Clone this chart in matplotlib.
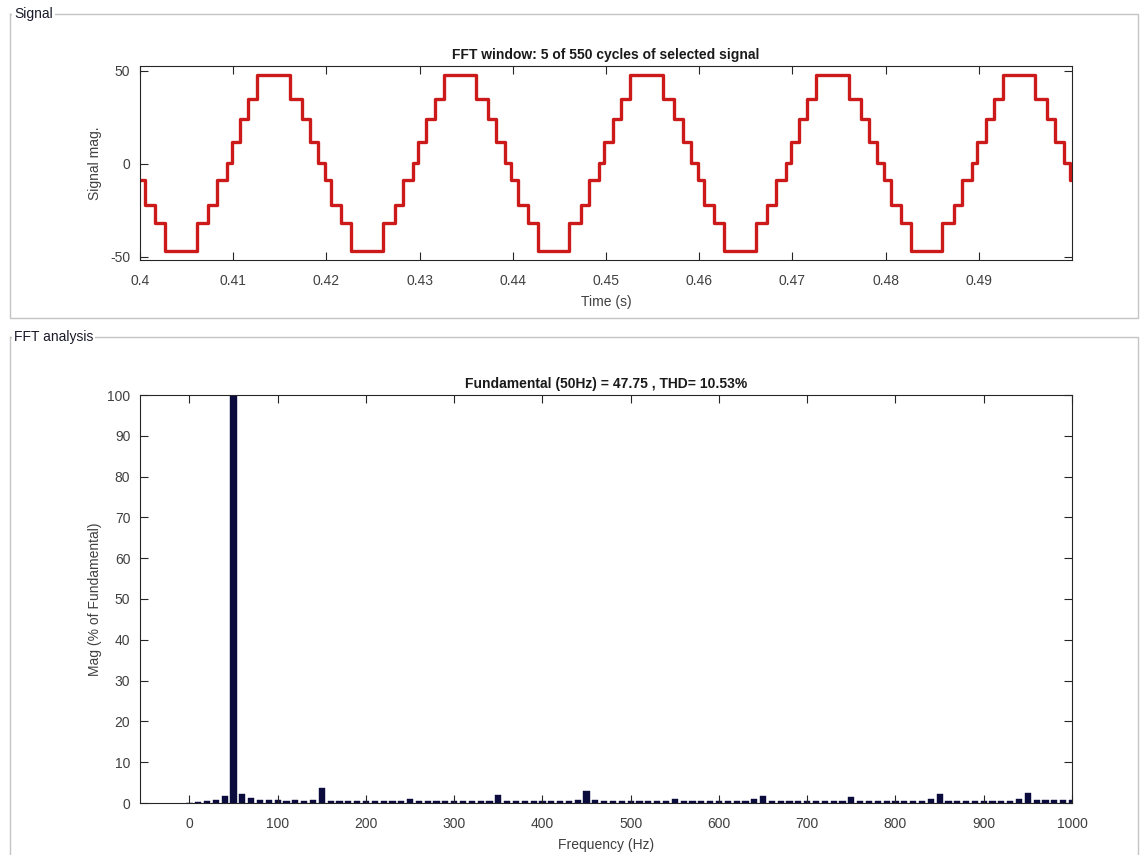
import matplotlib
matplotlib.use("Agg")
import matplotlib.pyplot as plt
from matplotlib.lines import Line2D
import numpy as np

plt.rcParams['font.family'] = ['Liberation Sans', 'DejaVu Sans']
plt.rcParams['axes.unicode_minus'] = False

# --- signal: one cycle of the staircase ---
start_level = -8.5
cycle_starts = [0.40, 0.42, 0.44, 0.46, 0.48]
edge_offsets = [0.00054, 0.00161, 0.00268, 0.00607, 0.00732, 0.00822, 0.00929, 0.00982,
                0.01072, 0.01161, 0.01257, 0.01608, 0.01733, 0.01822, 0.01911, 0.01983]
edge_levels = [-22, -32, -47, -32, -22, -8.5, 0.5, 11.5,
               24, 35, 48, 35, 24, 11.5, 0.5, -8.5]
t_end = 0.5

# --- FFT bars, 0..1000 Hz every 10 Hz (% of fundamental) ---
freqs = list(range(0, 1001, 10))
mags = [
    0.0, 0.3, 0.4, 0.8, 1.8, 100, 2.1, 1.2, 0.8, 0.8,      # 0-90
    0.7, 0.4, 0.7, 0.5, 0.8, 3.7, 0.4, 0.4, 0.4, 0.4,      # 100-190
    0.5, 0.4, 0.4, 0.4, 0.4, 1.0, 0.4, 0.4, 0.4, 0.4,      # 200-290
    0.5, 0.4, 0.4, 0.4, 0.4, 1.9, 0.4, 0.4, 0.4, 0.4,      # 300-390
    0.5, 0.4, 0.4, 0.4, 0.7, 2.9, 0.7, 0.4, 0.4, 0.4,      # 400-490
    0.5, 0.4, 0.4, 0.4, 0.4, 1.1, 0.4, 0.4, 0.4, 0.4,      # 500-590
    0.4, 0.4, 0.4, 0.4, 0.9, 1.8, 0.4, 0.4, 0.4, 0.4,      # 600-690
    0.5, 0.4, 0.4, 0.4, 0.4, 1.4, 0.4, 0.4, 0.4, 0.4,      # 700-790
    0.4, 0.4, 0.4, 0.4, 1.0, 2.1, 0.4, 0.4, 0.4, 0.4,      # 800-890
    0.5, 0.4, 0.4, 0.4, 1.0, 2.5, 0.8, 0.7, 0.7, 0.7,      # 900-990
    0.7,                                                   # 1000
]

W, H = 1140, 855
fig = plt.figure(figsize=(W / 100, H / 100), dpi=100, facecolor='white')


def fx(px):
    return px / W


def fy(py):
    return 1 - py / H


def style_axes(ax):
    for s in ax.spines.values():
        s.set_color('#262626')
        s.set_linewidth(0.8)
    ax.tick_params(direction='in', length=6, width=0.8, top=True, right=True,
                   colors='#262626', labelsize=10, labelcolor='#404040')
    ax.tick_params(axis='x', pad=10)
    ax.tick_params(axis='y', pad=7)


# panel frames
frame_col = '#c4c4c4'
for x0, y0, x1, y1 in [(10, 14, 1138, 318), (10, 337, 1138, 870)]:
    fig.add_artist(Line2D([fx(x0), fx(x1), fx(x1), fx(x0), fx(x0)],
                          [fy(y0), fy(y0), fy(y1), fy(y1), fy(y0)],
                          transform=fig.transFigure, color=frame_col, lw=1))
fig.text(fx(14), fy(14), 'Signal', fontsize=10, color='#1a1a2a', va='center', ha='left',
         bbox=dict(facecolor='white', edgecolor='none', pad=1.5))
fig.text(fx(14), fy(337), 'FFT analysis', fontsize=10, color='#1a1a2a', va='center', ha='left',
         bbox=dict(facecolor='white', edgecolor='none', pad=1.5))

# top: signal
ax1 = fig.add_axes([fx(140), fy(260), fx(1072) - fx(140), fy(65.7) - fy(260)])
t = [cycle_starts[0]]
y = [start_level]
for c in cycle_starts:
    for off, lev in zip(edge_offsets, edge_levels):
        t.append(c + off)
        y.append(lev)
t.append(t_end)
y.append(y[-1])
ax1.step(t, y, where='post', color='#cc1a1a', lw=2.4)
ax1.set_xlim(0.4, 0.5)
ax1.set_ylim(-51.8, 52.8)
ax1.set_xticks(np.arange(0.40, 0.495, 0.01))
ax1.set_xticklabels(['0.4', '0.41', '0.42', '0.43', '0.44', '0.45', '0.46', '0.47', '0.48', '0.49'])
ax1.set_yticks([-50, 0, 50])
style_axes(ax1)
ax1.set_title('FFT window: 5 of 550 cycles of selected signal', fontsize=10, fontweight='bold',
              color='#1a1a1a', pad=5)
ax1.set_xlabel('Time (s)', fontsize=10, color='#404040', labelpad=5)
ax1.set_ylabel('Signal mag.', fontsize=10, color='#404040', labelpad=6)

# bottom: FFT
ax2 = fig.add_axes([fx(140), fy(803), fx(1072) - fx(140), fy(395) - fy(803)])
ax2.bar(freqs, mags, width=7, color='#0b0b3d', edgecolor='#0b0b3d', linewidth=0.3)
ax2.set_xlim(-56, 1000)
ax2.set_ylim(0, 100)
ax2.set_xticks(range(0, 1001, 100))
ax2.set_yticks(range(0, 101, 10))
style_axes(ax2)
ax2.set_title('Fundamental (50Hz) = 47.75 , THD= 10.53%', fontsize=10, fontweight='bold',
              color='#1a1a1a', pad=5)
ax2.set_xlabel('Frequency (Hz)', fontsize=10, color='#404040', labelpad=5)
ax2.set_ylabel('Mag (% of Fundamental)', fontsize=10, color='#404040', labelpad=4)

fig.savefig('out.png', dpi=100, facecolor='white')
